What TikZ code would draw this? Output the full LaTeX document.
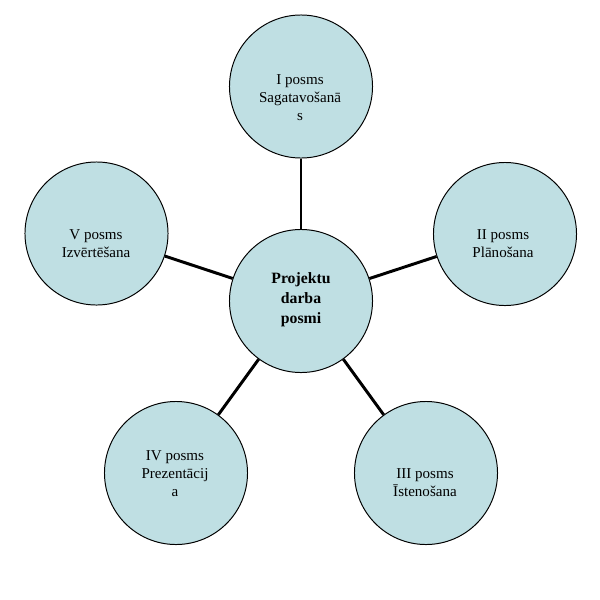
\documentclass[tikz,border=0pt]{standalone}
\usepackage{fontspec}
\setmainfont{Liberation Serif}
\definecolor{circfill}{RGB}{191,223,227}
\tikzset{
  stage/.style={circle, draw=black, line width=0.7pt, fill=circfill, minimum size=3.575cm, inner sep=0pt},
  stagetext/.style={align=center, font=\fontsize{10.7}{12.8}\selectfont, inner sep=0pt},
  hubtext/.style={align=center, font=\fontsize{11.2}{14.2}\selectfont\bfseries, inner sep=0pt},
  link/.style={line width=2.1pt, black}
}
\begin{document}
\begin{tikzpicture}[x=0.025cm, y=-0.025cm]
\useasboundingbox (0,0) rectangle (600,600);
\node[stage] (hub) at (301,301) {};
\node[stage] (s1) at (301,86.5) {};
\node[stage] (s2) at (505,234) {};
\node[stage] (s3) at (426,473) {};
\node[stage] (s4) at (176,473) {};
\node[stage] (s5) at (96.5,233.5) {};
\draw[link] (hub) -- (s1);
\draw[link] (hub) -- (s2);
\draw[link] (hub) -- (s3);
\draw[link] (hub) -- (s4);
\draw[link] (hub) -- (s5);
\node[hubtext] (thub) at (301,300) {Projektu\\darba\\posmi};
\node[stagetext] (t1) at (300,98) {I posms\\Sagatavošanā\\s};
\node[stagetext] (t2) at (503,244) {II posms\\Plānošana};
\node[stagetext] (t3) at (425,483) {III posms\\Īstenošana};
\node[stagetext] (t4) at (175,474) {IV posms\\Prezentācij\\a};
\node[stagetext] (t5) at (96,244) {V posms\\Izvērtēšana};
\end{tikzpicture}
\end{document}
